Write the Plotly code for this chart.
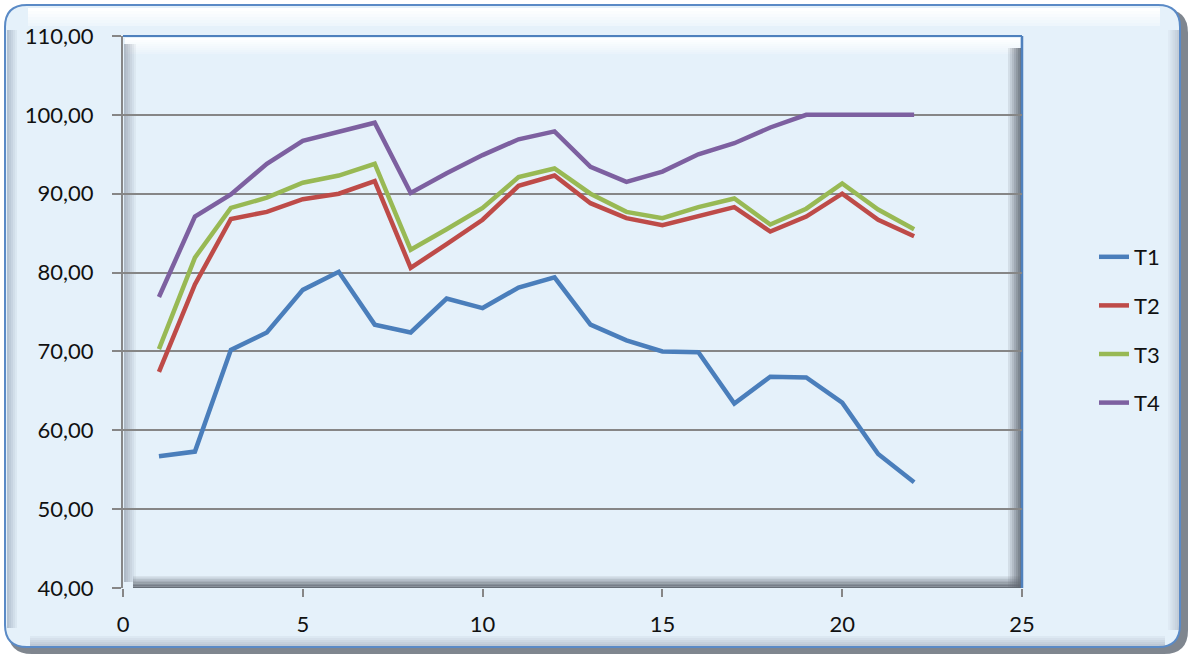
import plotly.graph_objects as go

# Measurement index and the four series
steps = list(range(1, 23))
t1 = [56.7, 57.3, 70.2, 72.4, 77.8, 80.1, 73.4, 72.4, 76.7, 75.5, 78.1,
      79.4, 73.4, 71.4, 70.0, 69.9, 63.4, 66.8, 66.7, 63.5, 57.0, 53.4]
t2 = [67.4, 78.5, 86.8, 87.7, 89.3, 90.0, 91.6, 80.6, 83.6, 86.7, 91.0,
      92.3, 88.8, 86.9, 86.0, 87.1, 88.3, 85.2, 87.1, 90.0, 86.7, 84.6]
t3 = [70.3, 81.9, 88.2, 89.5, 91.4, 92.3, 93.8, 82.9, 85.5, 88.2, 92.1,
      93.2, 90.0, 87.7, 86.9, 88.3, 89.4, 86.1, 88.1, 91.3, 88.0, 85.5]
t4 = [76.9, 87.1, 89.9, 93.8, 96.7, 97.8, 99.0, 90.1, 92.6, 94.9, 96.9,
      97.9, 93.4, 91.5, 92.8, 95.0, 96.4, 98.4, 100.0, 100.0, 100.0, 100.0]

series_names = ["T1", "T2", "T3", "T4"]
series_values = [t1, t2, t3, t4]
series_colors = ["#4a7ebb", "#be4b48", "#98b954", "#7d60a0"]

W, H = 1189, 654
L, R, T, B = 123, 1022, 36, 588  # plot area in pixels


def px(x):
    return (x - L) / (R - L)


def py(y):
    return (B - y) / (B - T)


def rounded_rect(x0, y0, x1, y1, r):
    pts = [
        f"M{px(x0 + r)},{py(y0)}",
        f"L{px(x1 - r)},{py(y0)}",
        f"Q{px(x1)},{py(y0)} {px(x1)},{py(y0 + r)}",
        f"L{px(x1)},{py(y1 - r)}",
        f"Q{px(x1)},{py(y1)} {px(x1 - r)},{py(y1)}",
        f"L{px(x0 + r)},{py(y1)}",
        f"Q{px(x0)},{py(y1)} {px(x0)},{py(y1 - r)}",
        f"L{px(x0)},{py(y0 + r)}",
        f"Q{px(x0)},{py(y0)} {px(x0 + r)},{py(y0)}",
        "Z",
    ]
    return " ".join(pts)


def rect(x0, y0, x1, y1, fill):
    return dict(type="rect", xref="paper", yref="paper", layer="below",
                x0=px(x0), x1=px(x1), y0=py(y1), y1=py(y0),
                fillcolor=fill, line=dict(width=0))


def band(x0, y0, x1, y1, rgb, a_start, a_end, axis, steps_n=8):
    """Soft gradient band built from thin strips; alpha runs start->end."""
    out = []
    for k in range(steps_n):
        a = a_start + (a_end - a_start) * k / (steps_n - 1)
        if axis == "x":
            w = (x1 - x0) / steps_n
            out.append(rect(x0 + k * w, y0, x0 + (k + 1) * w, y1,
                            f"rgba({rgb},{a:.3f})"))
        else:
            h = (y1 - y0) / steps_n
            out.append(rect(x0, y0 + k * h, x1, y0 + (k + 1) * h,
                            f"rgba({rgb},{a:.3f})"))
    return out


shapes = [
    # outer frame: shadow, then bordered panel
    dict(type="path", xref="paper", yref="paper", layer="below",
         path=rounded_rect(8, 9, 1188, 654, 24),
         fillcolor="#7f868f", line=dict(width=0)),
    dict(type="path", xref="paper", yref="paper", layer="below",
         path=rounded_rect(5, 5, 1180, 647, 22),
         fillcolor="#e5f1fa", line=dict(color="#5a8ac6", width=2)),
]
# highlight along the top of the frame, shading inside its edges
shapes += band(28, 8, 1160, 26, "255,255,255", 0.95, 0.35, "y", 6)
shapes += band(7, 30, 19, 628, "140,155,175", 0.55, 0.0, "x", 6)
shapes += band(1166, 30, 1179, 630, "150,160,175", 0.0, 0.45, "x", 6)
shapes += band(30, 634, 1165, 646, "150,160,175", 0.0, 0.5, "y", 6)

# plot area bevel
shapes += band(L + 2, 38, R - 2, 54, "255,255,255", 0.95, 0.2, "y", 8)
shapes += band(L + 1, 44, L + 15, 582, "130,140,155", 0.55, 0.0, "x", 7)
shapes += band(R - 16, 48, R, B, "95,102,112", 0.0, 0.9, "x", 8)
shapes += band(L + 10, B - 12, R, B, "95,102,112", 0.1, 0.95, "y", 8)
shapes += [
    # plot area top and right border
    dict(type="line", xref="paper", yref="paper", layer="below",
         x0=0, x1=1, y0=1, y1=1, line=dict(color="#4f81bd", width=2)),
    dict(type="line", xref="paper", yref="paper", layer="below",
         x0=1, x1=1, y0=0, y1=1, line=dict(color="#4f81bd", width=2.5)),
]

fig = go.Figure()
for i, (name, vals, col) in enumerate(zip(series_names, series_values, series_colors)):
    fig.add_trace(go.Scatter(
        x=steps, y=vals, name=name, mode="lines",
        line=dict(color=col, width=4.5),
        legendgroup=f"g{i}",
    ))

font_family = "Lato, 'Open Sans', sans-serif"

fig.update_layout(
    width=W, height=H,
    margin=dict(l=L, r=W - R, t=T, b=H - B),
    paper_bgcolor="white",
    plot_bgcolor="rgba(0,0,0,0)",
    separators=",.",
    font=dict(family=font_family, size=22, color="#111111"),
    shapes=shapes,
    showlegend=True,
    legend=dict(
        x=px(1094), y=py(236), xanchor="left", yanchor="top",
        bgcolor="rgba(0,0,0,0)", font=dict(size=22),
        tracegroupgap=17, itemwidth=30,
    ),
    xaxis=dict(
        range=[0, 25], dtick=5, tick0=0,
        showgrid=False, zeroline=False,
        showline=False,
        ticks="outside", ticklen=8, tickcolor="#868686", tickwidth=1.5,
        ticklabelstandoff=9,
    ),
    yaxis=dict(
        range=[40, 110], dtick=10, tick0=40,
        tickformat=".2f",
        showgrid=True, gridcolor="#868686", gridwidth=1.5,
        zeroline=False,
        showline=True, linecolor="#868686", linewidth=2,
        ticks="outside", ticklen=9, tickcolor="#868686", tickwidth=1.5,
        ticklabelstandoff=14,
    ),
)

fig.write_html("out.html")
